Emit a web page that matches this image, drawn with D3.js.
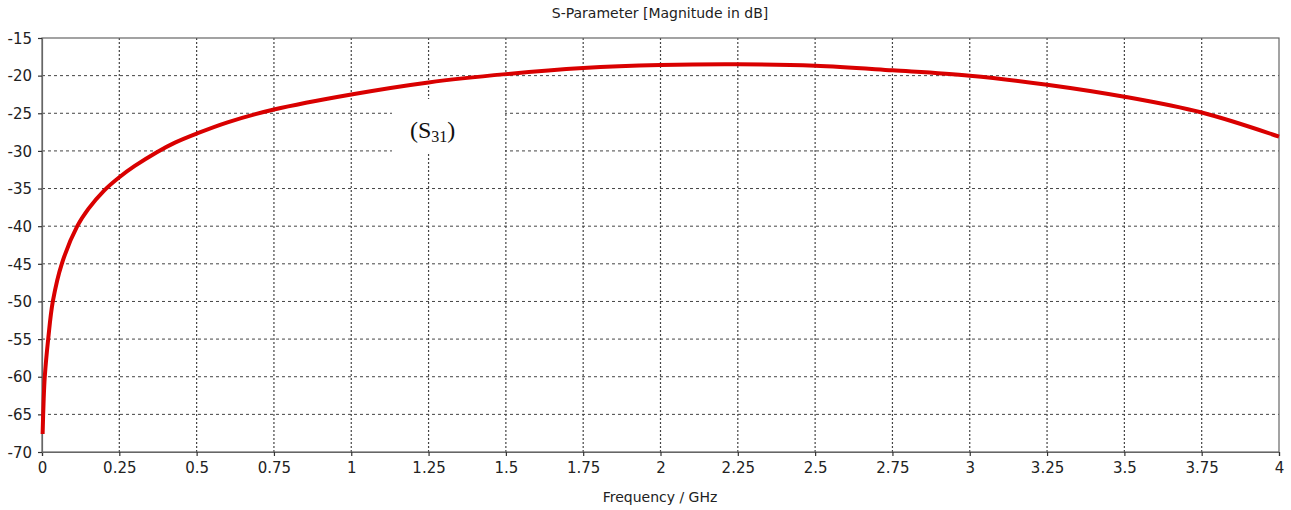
<!DOCTYPE html>
<html>
<head>
<meta charset="utf-8">
<script src="https://cdn.jsdelivr.net/npm/d3@7"></script>
<style>
  html, body { margin: 0; padding: 0; background: #fff; }
  svg { display: block; }
</style>
</head>
<body>
<svg id="chart" width="1291" height="510"></svg>
<script>
// S31 magnitude (dB) versus frequency (GHz)
const freqGHz = [0.002, 0.005, 0.009, 0.020, 0.035, 0.064, 0.114, 0.15, 0.20, 0.25, 0.30, 0.37, 0.43, 0.5, 0.6, 0.75, 1.0, 1.25, 1.5, 1.75, 2.0, 2.25, 2.5, 2.75, 3.0, 3.25, 3.5, 3.75, 4.0];
const s31dB   = [-67.6, -63.5, -60, -55, -50, -45, -40, -37.7, -35.3, -33.5, -32.0, -30.2, -28.9, -27.7, -26.2, -24.5, -22.5, -20.9, -19.8, -19.0, -18.6, -18.5, -18.7, -19.3, -20.0, -21.2, -22.8, -24.9, -28.1];

const xTicks = [0, 0.25, 0.5, 0.75, 1, 1.25, 1.5, 1.75, 2, 2.25, 2.5, 2.75, 3, 3.25, 3.5, 3.75, 4];
const yTicks = [-15, -20, -25, -30, -35, -40, -45, -50, -55, -60, -65, -70];

const chartTitle = "S-Parameter [Magnitude in dB]";
const xTitle = "Frequency / GHz";

const svg = d3.select("#chart");
const margin = { left: 42, top: 38, right: 1291 - 1279, bottom: 510 - 452 };
const W = 1291, H = 510;

const x = d3.scaleLinear().domain([0, 4]).range([margin.left, W - margin.right]);
const y = d3.scaleLinear().domain([-70, -15]).range([H - margin.bottom, margin.top]);

const font = "'DejaVu Sans', sans-serif";
const axisColor = "#666";

// grid
const grid = svg.append("g");
grid.selectAll("line.h").data(yTicks.filter(d => d !== -15 && d !== -70)).join("line")
  .attr("x1", x(0)).attr("x2", x(4))
  .attr("y1", d => y(d)).attr("y2", d => y(d))
  .attr("stroke", "#444").attr("stroke-width", 1).attr("stroke-dasharray", "3,3");
grid.selectAll("line.v").data(xTicks.filter(d => d !== 0 && d !== 4)).join("line")
  .attr("y1", y(-15)).attr("y2", y(-70))
  .attr("x1", d => x(d)).attr("x2", d => x(d))
  .attr("stroke", "#444").attr("stroke-width", 1.2).attr("stroke-dasharray", "2,2");

// frame
svg.append("rect")
  .attr("x", x(0)).attr("y", y(-15))
  .attr("width", x(4) - x(0)).attr("height", y(-70) - y(-15))
  .attr("fill", "none").attr("stroke", axisColor).attr("stroke-width", 1.2);

// axes
const fmt = d => String(d);
const xAxis = svg.append("g")
  .attr("transform", `translate(0,${y(-70)})`)
  .call(d3.axisBottom(x).tickValues(xTicks).tickSize(4).tickPadding(6).tickFormat(fmt));
const yAxis = svg.append("g")
  .attr("transform", `translate(${x(0)},0)`)
  .call(d3.axisLeft(y).tickValues(yTicks).tickSize(4).tickPadding(6).tickFormat(fmt));
[xAxis, yAxis].forEach(a => {
  a.select(".domain").attr("stroke", axisColor).attr("stroke-width", 1.2);
  a.selectAll(".tick line").attr("stroke", "#333").attr("stroke-width", 1.2);
  a.selectAll(".tick text").attr("fill", "#222").style("font-family", font).style("font-size", "15px");
});
yAxis.selectAll(".tick text").attr("dy", "0.35em");

// curve
const pts = freqGHz.map((f, i) => [f, s31dB[i]]);
svg.append("path")
  .datum(pts)
  .attr("fill", "none")
  .attr("stroke", "#d90000")
  .attr("stroke-width", 4)
  .attr("stroke-linejoin", "round")
  .attr("d", d3.line().x(d => x(d[0])).y(d => y(d[1])).curve(d3.curveCatmullRom.alpha(0.5)));

// series label on a white patch
svg.append("rect")
  .attr("x", 392).attr("y", 99).attr("width", 113).attr("height", 53)
  .attr("fill", "#fff");
const lbl = svg.append("text")
  .attr("x", 410).attr("y", 138)
  .style("font-family", "'Liberation Serif', 'DejaVu Serif', serif")
  .style("font-size", "24px").attr("fill", "#111");
lbl.append("tspan").text("(S");
lbl.append("tspan").attr("dy", 4).style("font-size", "16px").text("31");
lbl.append("tspan").attr("dy", -4).text(")");

// titles
svg.append("text")
  .attr("x", 660).attr("y", 18).attr("text-anchor", "middle")
  .style("font-family", font).style("font-size", "14px").attr("fill", "#222")
  .text(chartTitle);
svg.append("text")
  .attr("x", 660).attr("y", 502).attr("text-anchor", "middle")
  .style("font-family", font).style("font-size", "14px").attr("fill", "#222")
  .text(xTitle);
</script>
</body>
</html>
